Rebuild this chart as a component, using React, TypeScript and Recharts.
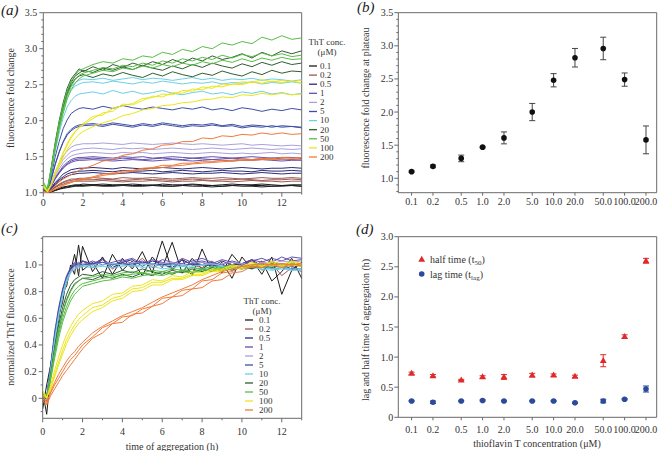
import React from 'react';
import { LineChart, Line, XAxis, YAxis, ReferenceArea, ScatterChart, Scatter, ErrorBar } from 'recharts';

// ---------- shared ----------
const TIME = [0, 0.2, 0.4, 0.6, 0.8, 1, 1.2, 1.4, 1.6, 1.8, 2, 2.5, 3, 3.5, 4, 4.5, 5, 5.5, 6, 6.5, 7, 7.5, 8, 8.5, 9, 9.5, 10, 10.5, 11, 11.5, 12, 12.5, 13];
const CONC_NAMES = ['0.1', '0.2', '0.5', '1', '2', '5', '10', '20', '50', '100', '200'];
const COLORS = ['#1c1c1c', '#9a5a52', '#2b2b78', '#6450ad', '#a9a0de', '#3d4ea6', '#6ccfe4', '#2f5e30', '#58bd46', '#ece41c', '#f07a3a'];

// ---------- panel (a): fluorescence fold change, 3 replicates per concentration ----------
const A_01 = [
  [1.00, 1.00, 1.02, 1.04, 1.06, 1.08, 1.09, 1.10, 1.11, 1.11, 1.12, 1.11, 1.12, 1.11, 1.11, 1.12, 1.11, 1.10, 1.12, 1.11, 1.11, 1.12, 1.11, 1.10, 1.11, 1.12, 1.11, 1.11, 1.12, 1.11, 1.10, 1.11, 1.11],
  [1.01, 1.00, 1.01, 1.03, 1.05, 1.07, 1.08, 1.09, 1.10, 1.10, 1.10, 1.11, 1.10, 1.10, 1.11, 1.10, 1.10, 1.11, 1.10, 1.09, 1.10, 1.11, 1.10, 1.10, 1.09, 1.10, 1.11, 1.10, 1.10, 1.09, 1.10, 1.10, 1.09],
  [1.00, 1.00, 1.02, 1.03, 1.05, 1.06, 1.07, 1.08, 1.09, 1.09, 1.09, 1.10, 1.09, 1.09, 1.10, 1.09, 1.09, 1.10, 1.09, 1.09, 1.10, 1.09, 1.09, 1.08, 1.09, 1.10, 1.09, 1.09, 1.08, 1.09, 1.09, 1.10, 1.09],
];
const A_02 = [
  [1.00, 1.00, 1.04, 1.08, 1.12, 1.15, 1.17, 1.19, 1.19, 1.20, 1.20, 1.21, 1.20, 1.19, 1.21, 1.20, 1.20, 1.21, 1.20, 1.19, 1.20, 1.21, 1.20, 1.20, 1.21, 1.20, 1.19, 1.20, 1.21, 1.20, 1.20, 1.21, 1.20],
  [1.01, 1.00, 1.04, 1.08, 1.11, 1.14, 1.16, 1.17, 1.18, 1.18, 1.18, 1.18, 1.19, 1.18, 1.17, 1.18, 1.19, 1.18, 1.18, 1.17, 1.18, 1.19, 1.18, 1.17, 1.18, 1.18, 1.19, 1.18, 1.17, 1.18, 1.18, 1.19, 1.18],
  [1.00, 1.00, 1.03, 1.07, 1.10, 1.12, 1.14, 1.15, 1.16, 1.16, 1.16, 1.16, 1.17, 1.16, 1.15, 1.16, 1.16, 1.17, 1.16, 1.15, 1.16, 1.16, 1.17, 1.16, 1.16, 1.15, 1.16, 1.17, 1.16, 1.16, 1.15, 1.16, 1.16],
];
const A_05 = [
  [1.00, 1.00, 1.07, 1.14, 1.20, 1.26, 1.29, 1.32, 1.33, 1.34, 1.34, 1.35, 1.34, 1.33, 1.35, 1.34, 1.33, 1.34, 1.35, 1.34, 1.33, 1.34, 1.35, 1.34, 1.33, 1.34, 1.35, 1.34, 1.33, 1.34, 1.34, 1.35, 1.34],
  [1.01, 1.00, 1.05, 1.11, 1.16, 1.20, 1.23, 1.25, 1.26, 1.27, 1.27, 1.28, 1.27, 1.26, 1.27, 1.28, 1.27, 1.26, 1.27, 1.28, 1.27, 1.26, 1.27, 1.27, 1.28, 1.27, 1.26, 1.27, 1.28, 1.27, 1.26, 1.27, 1.27],
  [1.00, 1.00, 1.06, 1.13, 1.18, 1.22, 1.26, 1.28, 1.29, 1.30, 1.30, 1.31, 1.30, 1.29, 1.31, 1.30, 1.30, 1.31, 1.29, 1.30, 1.31, 1.30, 1.29, 1.30, 1.31, 1.30, 1.30, 1.29, 1.31, 1.30, 1.30, 1.31, 1.30],
];
const A_1 = [
  [1.00, 1.00, 1.09, 1.20, 1.28, 1.35, 1.40, 1.44, 1.46, 1.47, 1.47, 1.48, 1.47, 1.46, 1.48, 1.47, 1.46, 1.47, 1.48, 1.47, 1.46, 1.48, 1.47, 1.46, 1.47, 1.48, 1.47, 1.46, 1.47, 1.48, 1.47, 1.46, 1.47],
  [1.01, 1.00, 1.10, 1.21, 1.29, 1.37, 1.42, 1.46, 1.48, 1.49, 1.49, 1.50, 1.49, 1.48, 1.50, 1.49, 1.50, 1.48, 1.49, 1.50, 1.49, 1.48, 1.49, 1.50, 1.49, 1.48, 1.49, 1.50, 1.49, 1.48, 1.49, 1.49, 1.48],
  [1.00, 1.00, 1.09, 1.19, 1.27, 1.34, 1.39, 1.42, 1.44, 1.45, 1.45, 1.46, 1.45, 1.44, 1.45, 1.46, 1.45, 1.44, 1.45, 1.46, 1.45, 1.44, 1.45, 1.46, 1.45, 1.44, 1.45, 1.45, 1.46, 1.45, 1.44, 1.45, 1.45],
];
const A_2 = [
  [1.00, 1.00, 1.14, 1.29, 1.41, 1.51, 1.58, 1.63, 1.66, 1.67, 1.68, 1.68, 1.69, 1.68, 1.67, 1.69, 1.68, 1.67, 1.68, 1.69, 1.68, 1.67, 1.68, 1.67, 1.66, 1.67, 1.68, 1.66, 1.67, 1.66, 1.65, 1.66, 1.65],
  [1.01, 1.00, 1.11, 1.23, 1.33, 1.41, 1.47, 1.51, 1.53, 1.54, 1.55, 1.56, 1.55, 1.54, 1.56, 1.55, 1.56, 1.54, 1.55, 1.56, 1.55, 1.54, 1.55, 1.56, 1.55, 1.54, 1.55, 1.54, 1.55, 1.56, 1.54, 1.55, 1.54],
  [1.00, 1.00, 1.12, 1.26, 1.37, 1.46, 1.52, 1.57, 1.59, 1.60, 1.61, 1.62, 1.61, 1.60, 1.62, 1.61, 1.62, 1.60, 1.61, 1.62, 1.61, 1.60, 1.61, 1.62, 1.61, 1.60, 1.61, 1.62, 1.61, 1.60, 1.61, 1.60, 1.61],
];
const A_5 = [
  [1.00, 1.00, 1.24, 1.50, 1.71, 1.89, 2.01, 2.10, 2.14, 2.17, 2.18, 2.16, 2.20, 2.17, 2.21, 2.18, 2.16, 2.19, 2.17, 2.15, 2.18, 2.16, 2.19, 2.15, 2.17, 2.14, 2.18, 2.16, 2.13, 2.16, 2.14, 2.17, 2.15],
  [1.01, 1.00, 1.19, 1.40, 1.57, 1.71, 1.82, 1.88, 1.92, 1.94, 1.95, 1.96, 1.94, 1.97, 1.95, 1.93, 1.96, 1.94, 1.97, 1.95, 1.93, 1.95, 1.94, 1.96, 1.93, 1.95, 1.92, 1.94, 1.93, 1.91, 1.93, 1.92, 1.91],
  [1.00, 1.00, 1.19, 1.39, 1.56, 1.70, 1.80, 1.86, 1.90, 1.92, 1.93, 1.94, 1.92, 1.95, 1.93, 1.91, 1.94, 1.92, 1.95, 1.93, 1.91, 1.93, 1.92, 1.94, 1.92, 1.93, 1.90, 1.92, 1.91, 1.93, 1.91, 1.92, 1.90],
];
const A_10 = [
  [1.00, 1.01, 1.32, 1.66, 1.95, 2.19, 2.36, 2.47, 2.53, 2.56, 2.58, 2.57, 2.59, 2.56, 2.58, 2.60, 2.57, 2.59, 2.58, 2.56, 2.58, 2.60, 2.57, 2.59, 2.56, 2.58, 2.57, 2.59, 2.56, 2.58, 2.57, 2.55, 2.57],
  [1.00, 1.00, 1.31, 1.64, 1.92, 2.15, 2.32, 2.42, 2.48, 2.51, 2.53, 2.54, 2.52, 2.55, 2.53, 2.51, 2.54, 2.52, 2.55, 2.53, 2.51, 2.53, 2.52, 2.54, 2.51, 2.53, 2.52, 2.54, 2.51, 2.53, 2.52, 2.54, 2.52],
  [1.00, 1.00, 1.28, 1.58, 1.83, 2.04, 2.19, 2.28, 2.34, 2.37, 2.38, 2.40, 2.37, 2.42, 2.38, 2.41, 2.37, 2.39, 2.42, 2.38, 2.36, 2.39, 2.41, 2.37, 2.39, 2.36, 2.40, 2.38, 2.41, 2.37, 2.39, 2.36, 2.38],
];
const A_20 = [
  [1.05, 1.02, 1.35, 1.70, 2.00, 2.25, 2.45, 2.58, 2.65, 2.72, 2.68, 2.75, 2.70, 2.78, 2.74, 2.80, 2.76, 2.82, 2.78, 2.85, 2.80, 2.87, 2.83, 2.90, 2.85, 2.88, 2.93, 2.87, 2.95, 2.90, 2.97, 2.93, 2.97],
  [1.03, 1.00, 1.33, 1.66, 1.96, 2.20, 2.40, 2.53, 2.62, 2.66, 2.70, 2.67, 2.73, 2.70, 2.75, 2.71, 2.77, 2.73, 2.70, 2.76, 2.72, 2.78, 2.74, 2.80, 2.76, 2.73, 2.79, 2.75, 2.81, 2.77, 2.82, 2.78, 2.80],
  [1.04, 1.01, 1.33, 1.65, 1.94, 2.18, 2.37, 2.50, 2.58, 2.62, 2.64, 2.60, 2.65, 2.62, 2.67, 2.63, 2.60, 2.66, 2.62, 2.68, 2.64, 2.61, 2.66, 2.63, 2.69, 2.65, 2.62, 2.68, 2.64, 2.70, 2.66, 2.69, 2.68],
];
const A_50 = [
  [1.15, 1.05, 1.35, 1.68, 1.98, 2.22, 2.42, 2.55, 2.63, 2.70, 2.72, 2.78, 2.82, 2.80, 2.86, 2.84, 2.90, 2.88, 2.95, 2.92, 2.99, 2.96, 3.03, 3.00, 3.08, 3.05, 3.10, 3.07, 3.16, 3.12, 3.18, 3.13, 3.15],
  [1.10, 1.03, 1.32, 1.64, 1.92, 2.15, 2.35, 2.48, 2.57, 2.63, 2.66, 2.70, 2.74, 2.72, 2.77, 2.75, 2.80, 2.77, 2.83, 2.80, 2.86, 2.83, 2.88, 2.85, 2.91, 2.87, 2.92, 2.89, 2.94, 2.90, 2.93, 2.89, 2.91],
  [1.12, 1.04, 1.30, 1.60, 1.88, 2.10, 2.30, 2.43, 2.52, 2.58, 2.62, 2.66, 2.70, 2.68, 2.73, 2.71, 2.76, 2.73, 2.78, 2.75, 2.80, 2.77, 2.82, 2.79, 2.84, 2.81, 2.86, 2.82, 2.87, 2.84, 2.88, 2.85, 2.86],
];
const A_100 = [
  [1.10, 1.02, 1.12, 1.28, 1.42, 1.56, 1.68, 1.78, 1.85, 1.91, 1.96, 2.06, 2.08, 2.17, 2.21, 2.24, 2.31, 2.32, 2.37, 2.36, 2.42, 2.41, 2.47, 2.45, 2.51, 2.50, 2.54, 2.53, 2.57, 2.54, 2.56, 2.54, 2.56],
  [1.08, 1.01, 1.11, 1.27, 1.41, 1.55, 1.66, 1.76, 1.84, 1.90, 1.94, 2.03, 2.11, 2.13, 2.23, 2.22, 2.28, 2.34, 2.33, 2.39, 2.38, 2.44, 2.43, 2.48, 2.47, 2.51, 2.50, 2.54, 2.52, 2.55, 2.53, 2.55, 2.52],
  [1.10, 1.02, 1.11, 1.25, 1.37, 1.49, 1.60, 1.68, 1.75, 1.81, 1.85, 1.92, 1.97, 2.01, 2.07, 2.10, 2.15, 2.17, 2.21, 2.22, 2.25, 2.26, 2.29, 2.30, 2.33, 2.32, 2.36, 2.35, 2.38, 2.36, 2.38, 2.36, 2.37],
];
const A_200 = [
  [1.02, 1.00, 1.04, 1.10, 1.15, 1.19, 1.22, 1.25, 1.28, 1.31, 1.33, 1.38, 1.44, 1.46, 1.52, 1.54, 1.59, 1.61, 1.66, 1.67, 1.71, 1.71, 1.76, 1.75, 1.79, 1.78, 1.81, 1.80, 1.83, 1.81, 1.83, 1.81, 1.82],
  [1.01, 1.00, 1.02, 1.05, 1.08, 1.11, 1.13, 1.15, 1.16, 1.18, 1.19, 1.22, 1.26, 1.27, 1.30, 1.31, 1.34, 1.35, 1.38, 1.38, 1.41, 1.41, 1.43, 1.43, 1.45, 1.45, 1.47, 1.46, 1.48, 1.47, 1.49, 1.48, 1.49],
  [1.00, 1.00, 1.02, 1.05, 1.07, 1.10, 1.12, 1.14, 1.16, 1.17, 1.18, 1.21, 1.24, 1.26, 1.28, 1.30, 1.32, 1.34, 1.35, 1.37, 1.38, 1.40, 1.41, 1.42, 1.43, 1.44, 1.45, 1.45, 1.46, 1.46, 1.46, 1.47, 1.46],
];

// ---------- panel (c): normalized ThT fluorescence ----------
const C_01 = [
  [0.05, -0.12, 0.18, 0.40, 0.62, 0.72, 0.90, 0.95, 1.08, 0.92, 1.14, 0.95, 1.06, 0.93, 1.05, 0.97, 1.10, 0.94, 1.18, 0.96, 1.04, 0.92, 1.12, 0.95, 1.02, 0.90, 1.06, 0.97, 1.03, 0.88, 0.95, 1.05, 0.90],
  [-0.08, 0.10, 0.25, 0.44, 0.58, 0.80, 0.84, 1.00, 0.93, 1.15, 0.96, 1.02, 0.90, 1.08, 0.96, 1.03, 0.92, 1.06, 0.98, 1.17, 0.94, 1.05, 0.97, 1.02, 0.94, 1.08, 0.99, 1.04, 0.93, 1.06, 0.78, 0.96, 1.02],
];
const C_02 = [
  [0.00, -0.02, 0.22, 0.46, 0.62, 0.78, 0.86, 0.95, 0.99, 0.96, 1.03, 0.98, 1.04, 0.97, 1.02, 0.99, 1.05, 0.98, 1.01, 0.97, 1.04, 1.00, 0.98, 1.03, 0.97, 1.02, 0.99, 1.04, 0.96, 1.01, 0.92, 0.98, 0.95],
];
const C_05 = [
  [0.02, 0.00, 0.24, 0.47, 0.65, 0.80, 0.90, 0.97, 1.01, 0.99, 1.03, 1.00, 1.05, 0.98, 1.02, 1.04, 0.99, 1.03, 1.01, 0.98, 1.04, 1.00, 1.02, 0.99, 1.03, 1.00, 1.01, 1.04, 0.99, 1.02, 1.00, 0.97, 1.01],
];
const C_1 = [
  [0.00, 0.00, 0.25, 0.50, 0.68, 0.82, 0.92, 0.98, 1.02, 1.00, 1.03, 1.01, 1.04, 1.00, 1.03, 1.05, 1.01, 1.04, 1.02, 1.00, 1.05, 1.02, 1.03, 1.01, 1.04, 1.02, 1.00, 1.03, 1.05, 1.02, 1.06, 1.03, 1.04],
  [-0.02, 0.01, 0.23, 0.47, 0.66, 0.80, 0.90, 0.96, 1.00, 1.02, 1.00, 1.03, 1.00, 1.02, 1.04, 1.01, 1.03, 1.00, 1.04, 1.02, 1.01, 1.03, 1.05, 1.02, 1.00, 1.03, 1.01, 1.04, 1.02, 1.05, 1.03, 1.06, 1.05],
];
const C_2 = [
  [0.01, 0.00, 0.22, 0.46, 0.64, 0.79, 0.89, 0.96, 0.99, 1.00, 1.01, 1.00, 1.02, 1.01, 1.00, 1.02, 1.01, 1.00, 1.01, 1.02, 1.00, 1.01, 1.02, 1.00, 1.01, 1.02, 1.01, 1.00, 1.02, 1.01, 1.03, 1.02, 1.03],
];
const C_5 = [
  [0.00, 0.00, 0.23, 0.47, 0.66, 0.81, 0.91, 0.97, 1.00, 1.01, 1.00, 1.01, 1.02, 1.00, 1.01, 1.00, 1.02, 1.01, 1.00, 1.01, 0.99, 1.01, 1.00, 1.00, 0.99, 1.00, 0.99, 0.98, 0.99, 0.97, 0.98, 0.97, 0.97],
];
const C_10 = [
  [0.00, 0.00, 0.21, 0.44, 0.63, 0.78, 0.89, 0.95, 0.98, 0.99, 1.00, 0.99, 1.00, 1.01, 1.00, 0.99, 1.00, 1.01, 0.99, 1.00, 1.00, 0.99, 1.00, 1.01, 0.99, 0.99, 0.98, 0.99, 0.98, 0.97, 0.98, 0.97, 0.97],
  [0.00, 0.00, 0.20, 0.42, 0.61, 0.76, 0.87, 0.94, 0.97, 0.98, 0.99, 0.98, 0.99, 0.98, 0.99, 1.00, 0.98, 0.99, 0.97, 0.98, 0.99, 0.98, 0.97, 0.98, 0.99, 0.98, 0.97, 0.98, 0.97, 0.96, 0.97, 0.96, 0.96],
];
const C_20 = [
  [0.02, 0.00, 0.18, 0.38, 0.55, 0.68, 0.78, 0.85, 0.89, 0.91, 0.93, 0.92, 0.95, 0.93, 0.96, 0.94, 0.97, 0.95, 0.93, 0.96, 0.94, 0.97, 0.95, 0.98, 0.96, 0.99, 0.97, 1.00, 0.98, 1.01, 0.99, 1.00, 1.01],
  [0.00, 0.00, 0.16, 0.35, 0.51, 0.64, 0.74, 0.81, 0.86, 0.88, 0.90, 0.89, 0.92, 0.90, 0.93, 0.91, 0.94, 0.92, 0.95, 0.93, 0.96, 0.94, 0.97, 0.95, 0.98, 0.96, 0.99, 0.97, 1.00, 0.98, 1.00, 0.99, 1.00],
];
const C_50 = [
  [0.03, 0.00, 0.15, 0.33, 0.48, 0.60, 0.69, 0.76, 0.81, 0.84, 0.86, 0.88, 0.90, 0.91, 0.92, 0.93, 0.94, 0.93, 0.95, 0.94, 0.96, 0.95, 0.97, 0.96, 0.98, 0.97, 0.99, 0.98, 1.00, 0.99, 1.00, 1.01, 1.00],
  [0.02, 0.00, 0.14, 0.30, 0.45, 0.57, 0.66, 0.73, 0.78, 0.81, 0.84, 0.86, 0.88, 0.89, 0.91, 0.90, 0.92, 0.93, 0.92, 0.94, 0.95, 0.94, 0.96, 0.97, 0.96, 0.98, 0.97, 0.99, 0.98, 1.00, 0.99, 1.00, 0.99],
  [0.04, 0.01, 0.17, 0.36, 0.52, 0.64, 0.73, 0.80, 0.85, 0.88, 0.90, 0.91, 0.93, 0.92, 0.94, 0.95, 0.94, 0.96, 0.95, 0.97, 0.96, 0.98, 0.97, 0.99, 0.98, 1.00, 0.99, 1.00, 1.01, 1.00, 1.01, 1.00, 1.01],
];
const C_100 = [
  [0.05, 0.00, 0.08, 0.18, 0.27, 0.36, 0.44, 0.50, 0.55, 0.59, 0.62, 0.68, 0.70, 0.75, 0.77, 0.82, 0.83, 0.87, 0.87, 0.90, 0.90, 0.93, 0.93, 0.96, 0.96, 0.99, 0.98, 1.01, 0.99, 1.02, 0.99, 1.02, 1.00],
  [0.03, 0.00, 0.10, 0.21, 0.31, 0.40, 0.48, 0.54, 0.59, 0.63, 0.66, 0.71, 0.73, 0.78, 0.79, 0.84, 0.85, 0.89, 0.88, 0.92, 0.91, 0.95, 0.94, 0.97, 0.97, 1.00, 0.99, 1.02, 0.99, 1.03, 1.00, 1.03, 1.01],
  [0.06, 0.01, 0.07, 0.16, 0.25, 0.33, 0.41, 0.47, 0.52, 0.56, 0.59, 0.65, 0.68, 0.73, 0.75, 0.80, 0.81, 0.85, 0.85, 0.89, 0.89, 0.92, 0.92, 0.95, 0.95, 0.98, 0.97, 1.00, 0.99, 1.00, 0.99, 1.00, 0.99],
];
const C_200 = [
  [0.02, -0.03, 0.04, 0.10, 0.15, 0.20, 0.25, 0.29, 0.32, 0.36, 0.40, 0.46, 0.53, 0.56, 0.61, 0.62, 0.67, 0.69, 0.75, 0.76, 0.81, 0.82, 0.88, 0.89, 0.94, 0.95, 0.99, 0.98, 1.01, 1.00, 1.01, 1.00, 1.01],
  [-0.02, -0.05, 0.02, 0.07, 0.12, 0.17, 0.21, 0.25, 0.29, 0.33, 0.37, 0.45, 0.49, 0.56, 0.57, 0.63, 0.64, 0.69, 0.71, 0.76, 0.77, 0.82, 0.83, 0.88, 0.89, 0.94, 0.95, 0.99, 0.98, 1.01, 0.98, 1.01, 0.99],
  [0.00, -0.04, 0.05, 0.12, 0.18, 0.23, 0.28, 0.32, 0.35, 0.39, 0.42, 0.49, 0.54, 0.58, 0.62, 0.65, 0.68, 0.72, 0.76, 0.79, 0.82, 0.85, 0.89, 0.92, 0.95, 0.97, 0.99, 1.00, 1.01, 1.00, 1.01, 1.00, 1.01],
];

// ---------- panels (b) and (d) ----------
const CONC = [0.1, 0.2, 0.5, 1, 2, 5, 10, 20, 50, 100, 200];
const CONC_AXIS_LABELS = ['0.1', '0.2', '0.5', '1.0', '2.0', '5.0', '10.0', '20.0', '50.0', '100.0', '200.0'];
const PLATEAU = [1.10, 1.18, 1.30, 1.47, 1.61, 2.00, 2.48, 2.82, 2.96, 2.49, 1.58];
const PLATEAU_ERR = [0.01, 0.02, 0.05, 0.01, 0.09, 0.13, 0.10, 0.14, 0.17, 0.10, 0.21];
const T50 = [0.73, 0.69, 0.62, 0.67, 0.67, 0.70, 0.70, 0.68, 0.94, 1.34, 2.60];
const T50_ERR = [0.02, 0.02, 0.01, 0.02, 0.04, 0.03, 0.02, 0.02, 0.10, 0.03, 0.04];
const TLAG = [0.27, 0.25, 0.27, 0.28, 0.27, 0.27, 0.27, 0.24, 0.27, 0.30, 0.47];
const TLAG_ERR = [0.01, 0.02, 0.01, 0.01, 0.01, 0.01, 0.01, 0.01, 0.03, 0.01, 0.05];

// ---------- tick lists ----------
const A_X_TICKS = [0, 1, 2, 3, 4, 5, 6, 7, 8, 9, 10, 11, 12, 13];
const A_X_LABELS = [0, 2, 4, 6, 8, 10, 12];
const A_Y_TICKS = [1.0, 1.1, 1.2, 1.3, 1.4, 1.5, 1.6, 1.7, 1.8, 1.9, 2.0, 2.1, 2.2, 2.3, 2.4, 2.5, 2.6, 2.7, 2.8, 2.9, 3.0, 3.1, 3.2, 3.3, 3.4, 3.5];
const A_Y_LABELS = [1.0, 1.5, 2.0, 2.5, 3.0, 3.5];
const B_Y_TICKS = [0.8, 0.9, 1.0, 1.1, 1.2, 1.3, 1.4, 1.5, 1.6, 1.7, 1.8, 1.9, 2.0, 2.1, 2.2, 2.3, 2.4, 2.5, 2.6, 2.7, 2.8, 2.9, 3.0, 3.1, 3.2, 3.3, 3.4, 3.5];
const B_Y_LABELS = [1.0, 1.5, 2.0, 2.5, 3.0, 3.5];
const C_Y_TICKS = [-0.1, 0, 0.1, 0.2, 0.3, 0.4, 0.5, 0.6, 0.7, 0.8, 0.9, 1.0, 1.1, 1.2];
const C_Y_LABELS = [0, 0.2, 0.4, 0.6, 0.8, 1.0];
const D_Y_TICKS = [0, 0.5, 1.0, 1.5, 2.0, 2.5, 3.0];

const FONT = "'Liberation Serif', 'Times New Roman', Times, 'DejaVu Serif', serif";
const TXT = '#333';
const AX = '#6a6a6a';
const FS = 10;
const LEG_FS = 9;

const A_GROUPS = [A_01, A_02, A_05, A_1, A_2, A_5, A_10, A_20, A_50, A_100, A_200];
const C_GROUPS = [C_01, C_02, C_05, C_1, C_2, C_5, C_10, C_20, C_50, C_100, C_200];

const flatten = (groups: number[][][], prefix: string) =>
  groups.flatMap((g, ci) => g.map((arr, j) => ({ key: `${prefix}${ci}_${j}`, ci, arr })));
const A_LINES = flatten(A_GROUPS, 'a');
const C_LINES = flatten(C_GROUPS, 'c');
const toRows = (lines: { key: string; arr: number[] }[]) =>
  TIME.map((t, i) => {
    const r: Record<string, number> = { t };
    lines.forEach((l) => { r[l.key] = l.arr[i]; });
    return r;
  });
const ROWS_A = toRows(A_LINES);
const ROWS_C = toRows(C_LINES);
const ROWS_B = CONC.map((x, i) => ({ x, y: PLATEAU[i], e: PLATEAU_ERR[i] }));
const ROWS_D50 = CONC.map((x, i) => ({ x, y: T50[i], e: T50_ERR[i] }));
const ROWS_DLAG = CONC.map((x, i) => ({ x, y: TLAG[i], e: TLAG_ERR[i] }));

const fmt1 = (v: number) => v.toFixed(1);
const fmt0 = (v: number) => (Math.abs(v) < 1e-9 ? '0' : v.toFixed(1));
const fmtInt = (v: number) => String(Math.round(v));
const fmtConc = (v: number) => {
  const i = CONC.findIndex((c) => Math.abs(c - v) < 1e-9);
  return i >= 0 ? CONC_AXIS_LABELS[i] : '';
};

const isIn = (labels: number[] | null, v: number) => labels === null || labels.some((l) => Math.abs(l - v) < 1e-6);
const textStyle: React.CSSProperties = { fontFamily: FONT };

const yTick = (labels: number[] | null, fmt: (v: number) => string, gap: number, major = 4, minor = 2) => (p: any) => {
  const v = Number(p.payload.value);
  const lab = isIn(labels, v);
  return (
    <g>
      <line x1={p.x} y1={p.y} x2={p.x - (lab ? major : minor)} y2={p.y} stroke={AX} strokeWidth={1} />
      {lab && (
        <text x={p.x - gap} y={p.y} dy="0.35em" textAnchor="end" fontSize={FS} style={textStyle} fill={TXT}>
          {fmt(v)}
        </text>
      )}
    </g>
  );
};
const xTick = (labels: number[] | null, fmt: (v: number) => string, gap: number, major = 4, minor = 2) => (p: any) => {
  const v = Number(p.payload.value);
  const lab = isIn(labels, v);
  return (
    <g>
      <line x1={p.x} y1={p.y} x2={p.x} y2={p.y + (lab ? major : minor)} stroke={AX} strokeWidth={1} />
      {lab && (
        <text x={p.x} y={p.y + gap} dy="0.35em" textAnchor="middle" fontSize={FS} style={textStyle} fill={TXT}>
          {fmt(v)}
        </text>
      )}
    </g>
  );
};

const W = 660;
const H = 451;
const YW = 40;
const XH = 20;
const marginFor = (l: number, t: number, r: number, b: number) => ({ left: l - YW, top: t, right: W - r, bottom: H - b - XH });

const abs: React.CSSProperties = { position: 'absolute', left: 0, top: 0 };

const BlackDot = (p: any) => <circle cx={p.cx} cy={p.cy} r={2.8} fill="#111" />;
const BlueDot = (p: any) => <circle cx={p.cx} cy={p.cy} r={2.8} fill="#2d4a9a" />;
const RedTri = (p: any) => (
  <polygon points={`${p.cx},${p.cy - 3.6} ${p.cx - 3.4},${p.cy + 2.4} ${p.cx + 3.4},${p.cy + 2.4}`} fill="#e02a2a" />
);

const LOG_DOMAIN: [number, number] = [0.065, 283];

function PanelA() {
  return (
    <LineChart width={W} height={H} data={ROWS_A} margin={marginFor(43.3, 12.7, 301.7, 192.7)}>
      <XAxis dataKey="t" type="number" domain={[0, 13]} allowDataOverflow ticks={A_X_TICKS} interval={0}
        tick={xTick(A_X_LABELS, fmtInt, 10)} tickLine={false} axisLine={false} tickSize={0} tickMargin={0} height={XH} />
      <YAxis type="number" domain={[1, 3.5]} allowDataOverflow ticks={A_Y_TICKS} interval={0}
        tick={yTick(A_Y_LABELS, fmt1, 6)} tickLine={false} axisLine={false} tickSize={0} tickMargin={0} width={YW} />
      <ReferenceArea x1={0} x2={13} y1={1} y2={3.5} fill="none" stroke={AX} strokeWidth={1} ifOverflow="visible" />
      {A_LINES.map((l) => (
        <Line key={l.key} dataKey={l.key} stroke={COLORS[l.ci]} strokeWidth={1} dot={false} isAnimationActive={false} />
      ))}
    </LineChart>
  );
}

function PanelC() {
  return (
    <LineChart width={W} height={H} data={ROWS_C} margin={marginFor(42.7, 236.7, 301.7, 418.3)}>
      <XAxis dataKey="t" type="number" domain={[0, 13]} allowDataOverflow ticks={A_X_TICKS} interval={0}
        tick={xTick(A_X_LABELS, fmtInt, 13)} tickLine={false} axisLine={false} tickSize={0} tickMargin={0} height={XH} />
      <YAxis type="number" domain={[-0.15, 1.212]} allowDataOverflow ticks={C_Y_TICKS} interval={0}
        tick={yTick(C_Y_LABELS, fmt0, 6)} tickLine={false} axisLine={false} tickSize={0} tickMargin={0} width={YW} />
      <ReferenceArea x1={0} x2={13} y1={-0.15} y2={1.212} fill="none" stroke={AX} strokeWidth={1} ifOverflow="visible" />
      {C_LINES.map((l) => (
        <Line key={l.key} dataKey={l.key} stroke={COLORS[l.ci]} strokeWidth={1} dot={false} isAnimationActive={false} />
      ))}
    </LineChart>
  );
}

function PanelB() {
  return (
    <ScatterChart width={W} height={H} margin={marginFor(398.3, 12.7, 656.7, 192.7)}>
      <XAxis dataKey="x" type="number" scale="log" domain={LOG_DOMAIN} allowDataOverflow ticks={CONC} interval={0}
        tick={xTick(null, fmtConc, 9, 3, 3)} tickLine={false} axisLine={false} tickSize={0} tickMargin={0} height={XH} />
      <YAxis dataKey="y" type="number" domain={[0.7825, 3.5]} allowDataOverflow ticks={B_Y_TICKS} interval={0}
        tick={yTick(B_Y_LABELS, fmt1, 5)} tickLine={false} axisLine={false} tickSize={0} tickMargin={0} width={YW} />
      <ReferenceArea x1={LOG_DOMAIN[0]} x2={LOG_DOMAIN[1]} y1={0.7825} y2={3.5} fill="none" stroke={AX} strokeWidth={1} ifOverflow="visible" />
      <Scatter data={ROWS_B} dataKey="y" shape={BlackDot} isAnimationActive={false}>
        <ErrorBar dataKey="e" direction="y" width={3} stroke="#444" strokeWidth={1} />
      </Scatter>
    </ScatterChart>
  );
}

function PanelD() {
  return (
    <ScatterChart width={W} height={H} margin={marginFor(398.3, 236.7, 656.7, 417.3)}>
      <XAxis dataKey="x" type="number" scale="log" domain={LOG_DOMAIN} allowDataOverflow ticks={CONC} interval={0}
        tick={xTick(null, fmtConc, 12, 3, 3)} tickLine={false} axisLine={false} tickSize={0} tickMargin={0} height={XH} />
      <YAxis dataKey="y" type="number" domain={[0, 3]} allowDataOverflow ticks={D_Y_TICKS} interval={0}
        tick={yTick(null, fmt0, 5)} tickLine={false} axisLine={false} tickSize={0} tickMargin={0} width={YW} />
      <ReferenceArea x1={LOG_DOMAIN[0]} x2={LOG_DOMAIN[1]} y1={0} y2={3} fill="none" stroke={AX} strokeWidth={1} ifOverflow="visible" />
      <Scatter data={ROWS_DLAG} dataKey="y" shape={BlueDot} isAnimationActive={false}>
        <ErrorBar dataKey="e" direction="y" width={3} stroke="#2d4a9a" strokeWidth={1} />
      </Scatter>
      <Scatter data={ROWS_D50} dataKey="y" shape={RedTri} isAnimationActive={false}>
        <ErrorBar dataKey="e" direction="y" width={3} stroke="#e02a2a" strokeWidth={1} />
      </Scatter>
    </ScatterChart>
  );
}

function ConcLegend({ titleX, titleY, lineX, textX, y0, step }: { titleX: number; titleY: number; lineX: number; textX: number; y0: number; step: number }) {
  return (
    <g>
      <text x={titleX} y={titleY} dy="0.35em" textAnchor="middle" style={textStyle} fontSize={LEG_FS} fill={TXT}>ThT conc.</text>
      <text x={titleX} y={titleY + 10} dy="0.35em" textAnchor="middle" style={textStyle} fontSize={LEG_FS} fill={TXT}>(μM)</text>
      {CONC_NAMES.map((n, i) => (
        <g key={n}>
          <line x1={lineX} x2={lineX + 8} y1={y0 + i * step} y2={y0 + i * step} stroke={COLORS[i]} strokeWidth={1.3} />
          <text x={textX} y={y0 + i * step} dy="0.32em" style={textStyle} fontSize={LEG_FS} fill={TXT}>{n}</text>
        </g>
      ))}
    </g>
  );
}

function Overlay() {
  const title = { style: textStyle, fontStyle: 'italic' as const, fontSize: 15, fill: '#222' };
  const axt = { style: textStyle, fontSize: FS, fill: TXT, textAnchor: 'middle' as const };
  return (
    <svg width={W} height={H} style={{ ...abs, pointerEvents: 'none' }}>
      <text x={1} y={15} {...title}>(a)</text>
      <text x={357} y={12} {...title}>(b)</text>
      <text x={1} y={233} {...title}>(c)</text>
      <text x={356} y={234} {...title}>(d)</text>

      <text transform="translate(10,98) rotate(-90)" dy="0.35em" {...axt}>fluorescence fold change</text>
      <text transform="translate(365,98) rotate(-90)" dy="0.35em" {...axt}>fluorescence fold change at plateau</text>
      <text transform="translate(10,327) rotate(-90)" dy="0.35em" {...axt}>normalized ThT fluorescence</text>
      <text transform="translate(365,330) rotate(-90)" dy="0.35em" {...axt}>lag and half time of aggregation (h)</text>
      <text x={172} y={446} dy="0.35em" {...axt}>time of aggregation (h)</text>
      <text x={537} y={443} dy="0.35em" {...axt}>thioflavin T concentration (μM)</text>

      <ConcLegend titleX={327} titleY={42} lineX={309} textX={320} y0={66} step={9.1} />
      <ConcLegend titleX={262} titleY={301} lineX={245} textX={259} y0={320} step={9} />

      <polygon points="421.7,255.7 418.3,261.7 425.1,261.7" fill="#e02a2a" />
      <text x={430} y={259} dy="0.35em" style={textStyle} fontSize={FS} fill={TXT}>half time (t<tspan dy={2.5} fontSize={7}>50</tspan><tspan dy={-2.5}>)</tspan></text>
      <circle cx={421.7} cy={274} r={2.8} fill="#2d4a9a" />
      <text x={430} y={274} dy="0.35em" style={textStyle} fontSize={FS} fill={TXT}>lag time (t<tspan dy={2.5} fontSize={7}>lag</tspan><tspan dy={-2.5}>)</tspan></text>
    </svg>
  );
}

export default function App() {
  return (
    <div style={{ ...abs, width: W, height: H, background: '#fff', overflow: 'hidden', fontFamily: FONT }}>
      <div style={abs}><PanelA /></div>
      <div style={abs}><PanelB /></div>
      <div style={abs}><PanelC /></div>
      <div style={abs}><PanelD /></div>
      <Overlay />
    </div>
  );
}
